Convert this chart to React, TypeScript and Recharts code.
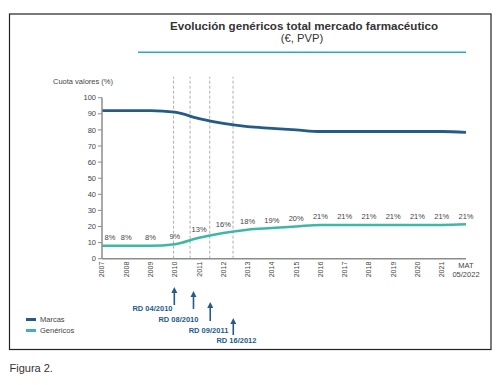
import React from "react";
import { LineChart, Line, XAxis, YAxis, ReferenceLine, ReferenceDot, Legend } from "recharts";

const categories = [
  "2007", "2008", "2009", "2010", "2011", "2012", "2013", "2014",
  "2015", "2016", "2017", "2018", "2019", "2020", "2021", "MAT 05/2022",
];
const marcas = [92, 92, 92, 91, 87, 84, 82, 81, 80, 79, 79, 79, 79, 79, 79, 78.5];
const genericos = [8, 8, 8, 9, 13, 16, 18, 19, 20, 21, 21, 21, 21, 21, 21, 21.4];
const yTicks = [0, 10, 20, 30, 40, 50, 60, 70, 80, 90, 100];

// reales decretos: posicion sobre el eje (en categorias)
const rdNames = ["RD 04/2010", "RD 08/2010", "RD 09/2011", "RD 16/2012"];
const rdLineAt = [2.95, 3.63, 4.44, 5.4];
const rdArrowAt = [2.98, 3.77, 4.46, 5.41];
const rdArrowTop = [-17.6, -20, -26.9, -36.8];
const rdArrowBottom = [-28.8, -31.2, -38.7, -47.4];
const rdLabelAt = [2.08, 3.15, 4.39, 5.54];
const rdLabelY = [-31.1, -37.6, -44.3, -51.1];

const BLUE = "#245b88";
const TEAL = "#40b6a7";
const GREY_TXT = "#444";
const FONT = "'Liberation Sans', Arial, sans-serif";

const data = categories.map((name, i) => ({ i, name, Marcas: marcas[i], Genéricos: genericos[i] }));

const CatTick = ({ x, y, payload }: any) => {
  const label = categories[payload.value];
  if (label.includes(" ")) {
    const [a, b] = label.split(" ");
    return (
      <g>
        <text x={x} y={y + 4} textAnchor="middle" fontSize={7.5} fill={GREY_TXT} fontFamily={FONT} dominantBaseline="central">{a}</text>
        <text x={x} y={y + 13} textAnchor="middle" fontSize={7.5} fill={GREY_TXT} fontFamily={FONT} dominantBaseline="central">{b}</text>
      </g>
    );
  }
  return (
    <text
      x={x}
      y={y}
      transform={`rotate(-90, ${x}, ${y})`}
      textAnchor="end"
      dominantBaseline="central"
      fontSize={7}
      fill={GREY_TXT}
      fontFamily={FONT}
    >
      {label}
    </text>
  );
};

const ArrowShape = (p: any) => {
  const { x1, y1, x2, y2 } = p;
  const top = Math.min(y1, y2);
  const bot = Math.max(y1, y2);
  return (
    <g>
      <line x1={x1} y1={top + 4} x2={x2} y2={bot} stroke={BLUE} strokeWidth={1.6} />
      <polygon points={`${x1},${top} ${x1 - 3},${top + 6} ${x1 + 3},${top + 6}`} fill={BLUE} />
    </g>
  );
};

const LegendContent = () => (
  <div style={{ fontFamily: FONT, fontSize: 7.5, color: GREY_TXT }}>
    {[["Marcas", BLUE], ["Genéricos", TEAL]].map(([n, c]) => (
      <div key={n} style={{ display: "flex", alignItems: "center", height: 11 }}>
        <span style={{ display: "inline-block", width: 10, height: 2.5, background: c, marginRight: 4 }} />
        {n}
      </div>
    ))}
  </div>
);

export default function App() {
  return (
    <div style={{ position: "absolute", left: 0, top: 0, width: 500, height: 385, background: "#fff" }}>
      <svg width={500} height={385} style={{ position: "absolute", left: 0, top: 0 }}>
        <rect x={9.5} y={14} width={481.5} height={335.5} fill="none" stroke="#222" strokeWidth={1.2} />
        <text x={304} y={25} textAnchor="middle" dominantBaseline="central" fontFamily={FONT} fontWeight="bold" fontSize={11.6} fill="#333">
          Evolución genéricos total mercado farmacéutico
        </text>
        <text x={302} y={38} textAnchor="middle" dominantBaseline="central" fontFamily={FONT} fontSize={11.2} fill="#333">
          (€, PVP)
        </text>
        <line x1={138} y1={52.3} x2={466} y2={52.3} stroke="#2aa6d6" strokeWidth={1.5} />
        <text x={53} y={81} dominantBaseline="central" fontFamily={FONT} fontSize={7.5} fill={GREY_TXT}>
          Cuota valores (%)
        </text>
        <text x={9.5} y={368} dominantBaseline="central" fontFamily={FONT} fontSize={11} fill="#333">
          Figura 2.
        </text>
      </svg>
      <div style={{ position: "absolute", left: 0, top: 0 }}>
        <LineChart width={500} height={385} data={data} margin={{ top: 97.7, right: 34, bottom: 96.3, left: 0 }}>
          <XAxis
            dataKey="i"
            type="number"
            domain={[0, 15]}
            ticks={categories.map((_, i) => i)}
            interval={0}
            tick={<CatTick />}
            tickLine={false}
            tickSize={0}
            tickMargin={3}
            height={30}
            axisLine={{ stroke: "#8c8c8c", strokeWidth: 1.5 }}
          />
          <YAxis
            domain={[0, 100]}
            ticks={yTicks}
            interval={0}
            width={102}
            tickSize={4}
            tickMargin={2}
            tick={{ fontSize: 7.5, fill: GREY_TXT, fontFamily: FONT }}
            tickLine={{ stroke: "#8c8c8c" }}
            axisLine={{ stroke: "#8c8c8c", strokeWidth: 1.5 }}
          />
          {rdLineAt.map((x, k) => (
            <ReferenceLine
              key={`d${k}`}
              segment={[{ x, y: 0 }, { x, y: 113 }]}
              ifOverflow="visible"
              stroke="#9a9a9a"
              strokeDasharray="3 2"
              strokeWidth={0.8}
            />
          ))}
          {rdArrowAt.map((x, k) => (
            <ReferenceLine
              key={`a${k}`}
              segment={[{ x, y: rdArrowTop[k] }, { x, y: rdArrowBottom[k] }]}
              ifOverflow="visible"
              shape={ArrowShape}
            />
          ))}
          {rdNames.map((n, k) => (
            <ReferenceDot
              key={`l${k}`}
              x={rdLabelAt[k]}
              y={rdLabelY[k]}
              ifOverflow="visible"
              shape={(p: any) => (
                <text x={p.cx} y={p.cy} textAnchor="middle" dominantBaseline="central" fontFamily={FONT} fontWeight="bold" fontSize={7.5} fill={BLUE}>
                  {n}
                </text>
              )}
            />
          ))}
          <Line type="monotone" dataKey="Marcas" stroke={BLUE} strokeWidth={2.8} dot={false} isAnimationActive={false} />
          <Line
            type="monotone"
            dataKey="Genéricos"
            stroke={TEAL}
            strokeWidth={2.5}
            isAnimationActive={false}
            dot={(p: any) => (
              <text
                key={`g${p.index}`}
                x={p.cx + (p.index === 0 ? 8 : 0)}
                y={p.cy - 8}
                textAnchor="middle"
                dominantBaseline="central"
                fontFamily={FONT}
                fontSize={7.5}
                fill={GREY_TXT}
              >
                {Math.round(p.value)}%
              </text>
            )}
          />
          <Legend
            layout="vertical"
            align="center"
            verticalAlign="middle"
            content={<LegendContent />}
            wrapperStyle={{ position: "absolute", left: 26, top: 314, width: 80, bottom: "auto" }}
          />
        </LineChart>
      </div>
    </div>
  );
}
